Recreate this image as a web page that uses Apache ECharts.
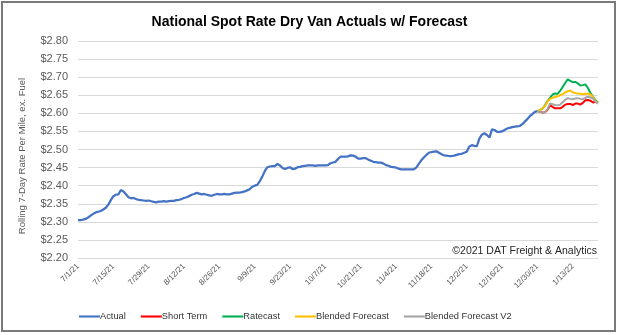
<!DOCTYPE html>
<html>
<head>
<meta charset="utf-8">
<script src="https://cdn.jsdelivr.net/npm/echarts@6/dist/echarts.min.js"></script>
<style>
html,body{margin:0;padding:0;background:#fff;}
#chart{width:619px;height:335px;}
</style>
</head>
<body>
<div id="chart"></div>
<script>
// ---- data ----
var titleText = 'National Spot Rate Dry Van Actuals w/ Forecast';
var yAxisName = 'Rolling 7-Day Rate Per Mile, ex. Fuel';
var copyrightText = '\u00A92021 DAT Freight & Analytics';
var startDate = [2021, 7, 1];      // first category (daily)
var dayCount = 207;                // 7/1/21 .. 1/23/22
var tickLabels = ['7/1/21','7/15/21','7/29/21','8/12/21','8/26/21','9/9/21','9/23/21','10/7/21','10/21/21','11/4/21','11/18/21','12/2/21','12/16/21','12/30/21','1/13/22'];
var seriesNames = ['Actual','Short Term','Ratecast','Blended Forecast','Blended Forecast V2'];
var yTicks = [2.20,2.25,2.30,2.35,2.40,2.45,2.50,2.55,2.60,2.65,2.70,2.75,2.80];

// Actual: 7/1/21 .. 12/30/21 (daily)
var actual = [
2.305,2.305,2.306,2.308,2.312,2.317,2.322,2.326,2.328,2.330,
2.334,2.339,2.347,2.360,2.371,2.375,2.376,2.388,2.384,2.376,
2.368,2.365,2.366,2.363,2.361,2.360,2.359,2.358,2.359,2.357,
2.355,2.354,2.356,2.356,2.357,2.356,2.357,2.358,2.358,2.360,
2.361,2.363,2.366,2.368,2.371,2.375,2.377,2.380,2.378,2.376,
2.377,2.375,2.373,2.372,2.375,2.377,2.376,2.376,2.377,2.376,
2.376,2.378,2.380,2.381,2.381,2.382,2.384,2.387,2.390,2.397,
2.400,2.402,2.412,2.425,2.440,2.451,2.453,2.454,2.454,2.460,
2.456,2.449,2.446,2.449,2.451,2.446,2.447,2.451,2.452,2.454,
2.455,2.456,2.456,2.456,2.455,2.456,2.456,2.456,2.456,2.457,
2.462,2.464,2.466,2.474,2.480,2.480,2.480,2.481,2.484,2.483,
2.480,2.475,2.475,2.476,2.476,2.472,2.469,2.466,2.465,2.464,
2.464,2.461,2.457,2.455,2.452,2.451,2.450,2.447,2.445,2.445,
2.445,2.445,2.445,2.445,2.450,2.460,2.470,2.478,2.485,2.491,
2.493,2.494,2.495,2.491,2.487,2.484,2.483,2.482,2.482,2.483,
2.485,2.487,2.488,2.491,2.494,2.508,2.512,2.510,2.509,2.530,
2.541,2.545,2.540,2.533,2.556,2.554,2.549,2.549,2.550,2.554,
2.558,2.560,2.562,2.563,2.564,2.565,2.570,2.577,2.584,2.592,
2.598,2.604,2.606
];
// Forecasts: 12/30/21 .. 1/23/22 (daily)
var forecastStartIndex = 182;
var shortTerm = [2.606,2.604,2.602,2.603,2.610,2.622,2.618,2.614,2.614,2.614,2.618,2.624,2.626,2.626,2.623,2.627,2.627,2.624,2.629,2.636,2.637,2.635,2.630,2.632,2.631];
var ratecast  = [2.606,2.609,2.613,2.622,2.634,2.643,2.652,2.655,2.654,2.662,2.673,2.684,2.694,2.690,2.686,2.687,2.683,2.677,2.678,2.680,2.670,2.657,2.646,2.636,2.630];
var blended   = [2.606,2.609,2.614,2.620,2.632,2.640,2.643,2.645,2.647,2.650,2.653,2.658,2.661,2.663,2.658,2.656,2.655,2.654,2.653,2.654,2.655,2.652,2.645,2.634,2.628];
var blendedV2 = [2.606,2.604,2.602,2.603,2.612,2.627,2.625,2.623,2.622,2.624,2.631,2.637,2.642,2.640,2.639,2.641,2.642,2.640,2.639,2.643,2.646,2.644,2.641,2.632,2.627];

// ---- build ----
var categories = [];
(function(){
  var d = new Date(Date.UTC(startDate[0], startDate[1]-1, startDate[2]));
  for (var i = 0; i < dayCount; i++) {
    var dd = new Date(d.getTime() + i*86400000);
    categories.push((dd.getUTCMonth()+1) + '/' + dd.getUTCDate() + '/' + String(dd.getUTCFullYear()).slice(2));
  }
})();
function pad(arr, start) {
  var out = [];
  for (var i = 0; i < start; i++) out.push(null);
  return out.concat(arr);
}
var FONT = '"Liberation Sans Narrow", "Liberation Sans", Arial, sans-serif';
var colors = ['#4472C4', '#FF0000', '#00B050', '#FFC000', '#A5A5A5'];
var dataSets = [actual, pad(shortTerm, forecastStartIndex), pad(ratecast, forecastStartIndex), pad(blended, forecastStartIndex), pad(blendedV2, forecastStartIndex)];

var chart = echarts.init(document.getElementById('chart'), null, {renderer: 'canvas'});
chart.setOption({
  animation: false,
  color: colors,
  title: {
    text: titleText, left: 'center', top: 10,
    textStyle: {fontFamily: FONT, fontSize: 14, fontWeight: 'bold', color: '#000'}
  },
  grid: {left: 78, right: 21, top: 41, bottom: 77},
  legend: {
    bottom: 9, left: 74, itemWidth: 21, itemHeight: 8, itemGap: 15,
    icon: 'path://M0,0 L20,0 L20,2 L0,2 Z',
    textStyle: {fontFamily: FONT, fontSize: 9.3, color: '#333333', padding: [0,0,0,-5]},
    data: seriesNames
  },
  xAxis: {
    type: 'category', data: categories, boundaryGap: false,
    axisLine: {lineStyle: {color: '#d9d9d9'}},
    axisTick: {show: false},
    axisLabel: {
      interval: 13, rotate: 45, fontFamily: FONT, fontSize: 8, color: '#595959', margin: 7,
      formatter: function(v, i){ return tickLabels.indexOf(v) >= 0 ? v : ''; }
    },
    splitLine: {show: false}
  },
  yAxis: {
    type: 'value', min: yTicks[0], max: yTicks[yTicks.length-1], interval: 0.05,
    axisLine: {show: false}, axisTick: {show: false},
    axisLabel: {fontFamily: FONT, fontSize: 11, color: '#595959', margin: 10,
      formatter: function(v){ return '$' + v.toFixed(2); }},
    splitLine: {lineStyle: {color: '#d9d9d9', width: 1}}
  },
  graphic: [
    {type: 'rect', shape: {x: 2, y: 2, width: 613, height: 329}, style: {fill: 'none', stroke: '#7a7a7a', lineWidth: 2}, silent: true},
    {type: 'text', x: 22, y: 156, rotation: Math.PI/2,
      style: {text: yAxisName, font: '9.5px ' + FONT, fill: '#595959', align: 'center', verticalAlign: 'middle'}},
    {type: 'text', x: 597, y: 251,
      style: {text: copyrightText, font: '10.5px ' + FONT, fill: '#262626', align: 'right', verticalAlign: 'middle'}}
  ],
  series: seriesNames.map(function(n, k){
    return {
      name: n, type: 'line', data: dataSets[k], symbol: 'none', showSymbol: false,
      connectNulls: false, smooth: false,
      lineStyle: {width: k === 0 ? 2.25 : 2, color: colors[k]},
      z: 2 + k
    };
  })
});
</script>
</body>
</html>
